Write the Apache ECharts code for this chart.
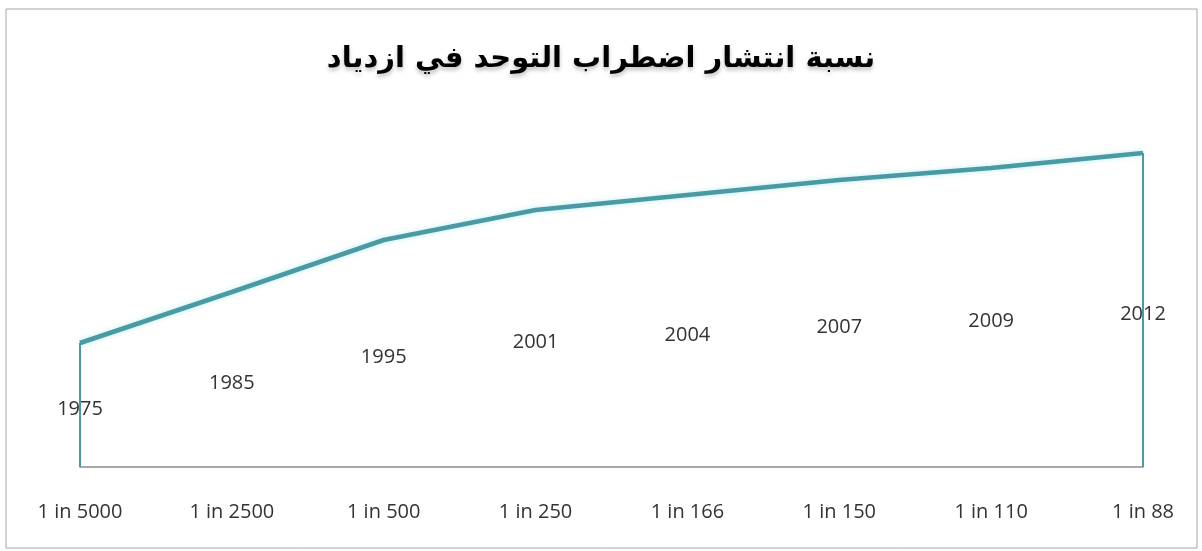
<!DOCTYPE html>
<html>
<head>
<meta charset="utf-8">
<script src="https://cdn.jsdelivr.net/npm/echarts@6/dist/echarts.min.js"></script>
<style>
  html, body { margin: 0; padding: 0; background: #fff; }
  #autismChart { width: 1202px; height: 551px; }
</style>
</head>
<body>
<div id="autismChart"></div>
<script>
// data (heights above baseline, arbitrary units)
const categories = ["1 in 5000", "1 in 2500", "1 in 500", "1 in 250", "1 in 166", "1 in 150", "1 in 110", "1 in 88"];
const years = ["1975", "1985", "1995", "2001", "2004", "2007", "2009", "2012"];
const values = [124, 175, 227, 257, 272, 287, 299, 314];

const lineColor = "#4a9aa4";
const last = categories.length - 1;

const chart = echarts.init(document.getElementById("autismChart"));
chart.setOption({
    animation: false,
    title: {
        text: "نسبة انتشار اضطراب التوحد في ازدياد",
        left: "center",
        top: 34,
        textStyle: {
            fontFamily: "DejaVu Sans",
            fontWeight: "bold",
            fontSize: 29,
            lineHeight: 40,
            color: "#000",
            textShadowColor: "rgba(0,0,0,0.25)",
            textShadowBlur: 4,
            textShadowOffsetY: 3,
        },
    },
    graphic: [
        {
            type: "rect",
            shape: { x: 6, y: 9, width: 1191, height: 539 },
            style: { fill: "none", stroke: "#a6a6a6", lineWidth: 1 },
            silent: true,
        },
    ],
    grid: {
        left: 80,
        right: 59,
        top: 117,
        bottom: 84,
    },
    xAxis: {
        type: "category",
        data: categories,
        boundaryGap: false,
        axisLine: { lineStyle: { color: "#8c8c8c", width: 1.5 } },
        axisTick: { show: false },
        axisLabel: {
            color: "#333",
            fontFamily: "Open Sans",
            fontSize: 20,
            margin: 35,
        },
        splitLine: { show: false },
    },
    yAxis: {
        type: "value",
        min: 0,
        max: 350,
        show: false,
        splitLine: { show: false },
    },
    series: [
        {
            // invisible bars only carry the year labels at mid height
            type: "bar",
            data: values,
            barWidth: 2,
            itemStyle: { color: "rgba(0,0,0,0)" },
            label: {
                show: true,
                position: "inside",
                offset: [0, 4],
                formatter: (p) => years[p.dataIndex],
                color: "#333",
                fontFamily: "Open Sans",
                fontSize: 20,
            },
            silent: true,
        },
        {
            type: "line",
            data: values,
            symbol: "none",
            lineStyle: {
                color: lineColor,
                width: 4.5,
                shadowColor: "rgba(120,220,230,0.5)",
                shadowBlur: 5,
            },
            markLine: {
                symbol: "none",
                silent: true,
                label: { show: false },
                lineStyle: { color: lineColor, width: 2, type: "solid" },
                data: [
                    [{ coord: [categories[0], 0] }, { coord: [categories[0], values[0]] }],
                    [{ coord: [categories[last], 0] }, { coord: [categories[last], values[last]] }],
                ],
            },
        },
    ],
});
</script>
</body>
</html>
